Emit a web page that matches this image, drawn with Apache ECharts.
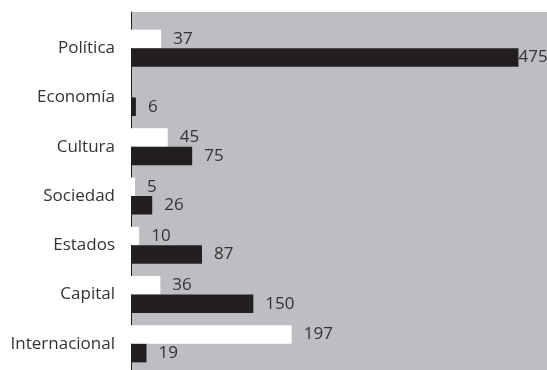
<!DOCTYPE html>
<html>
<head>
<meta charset="utf-8">
<script src="https://cdn.jsdelivr.net/npm/echarts@6/dist/echarts.min.js"></script>
<style>
  html, body { margin: 0; padding: 0; background: #fff; }
  #chart { width: 547px; height: 370px; }
</style>
</head>
<body>
<div id="chart"></div>
<script>
// categorias (de arriba a abajo)
const categories = ["Política", "Economía", "Cultura", "Sociedad", "Estados", "Capital", "Internacional"];
// barras blancas
const whiteValues = [37, "-", 45, 5, 10, 36, 197];
// barras negras
const blackValues = [475, 6, 75, 26, 87, 150, 19];

const font = "Open Sans";
const textColor = "#333333";

// el valor mas largo lleva la etiqueta pegada a la barra
const withLabels = (arr) =>
  arr.map((v) =>
    v !== "-" && v > 400 ? { value: v, label: { distance: 0 } } : v
  );

const myChart = echarts.init(document.getElementById("chart"));

const option = {
  animation: false,
  grid: [
    // fondo gris
    {
      left: 131,
      right: 0,
      top: 12,
      bottom: 0,
      show: true,
      backgroundColor: "#bdbec2",
      borderWidth: 0,
    },
    // barras
    {
      left: 131,
      right: 0,
      top: 23.5,
      height: 345,
    },
  ],
  xAxis: [
    { gridIndex: 0, type: "value", min: 0, max: 1, show: false },
    { gridIndex: 1, type: "value", min: 0, max: 510, show: false },
  ],
  yAxis: [
    {
      gridIndex: 0,
      type: "category",
      data: [""],
      axisLine: { show: true, lineStyle: { color: "#231f20", width: 1 } },
      axisTick: { show: false },
      axisLabel: { show: false },
    },
    {
      gridIndex: 1,
      type: "category",
      data: categories,
      inverse: true,
      axisLine: { show: false },
      axisTick: { show: false },
      axisLabel: {
        color: textColor,
        fontFamily: font,
        fontSize: 17,
        margin: 16,
      },
    },
  ],
  series: [
    {
      type: "bar",
      xAxisIndex: 1,
      yAxisIndex: 1,
      data: withLabels(whiteValues),
      barWidth: 18.5,
      barGap: "0%",
      itemStyle: { color: "#ffffff" },
      label: {
        show: true,
        position: "right",
        distance: 12,
        color: textColor,
        fontFamily: font,
        fontSize: 17,
      },
    },
    {
      type: "bar",
      xAxisIndex: 1,
      yAxisIndex: 1,
      data: withLabels(blackValues),
      barWidth: 18.5,
      barGap: "0%",
      itemStyle: { color: "#231f20" },
      label: {
        show: true,
        position: "right",
        distance: 12,
        color: textColor,
        fontFamily: font,
        fontSize: 17,
      },
    },
  ],
};

myChart.setOption(option);
</script>
</body>
</html>
